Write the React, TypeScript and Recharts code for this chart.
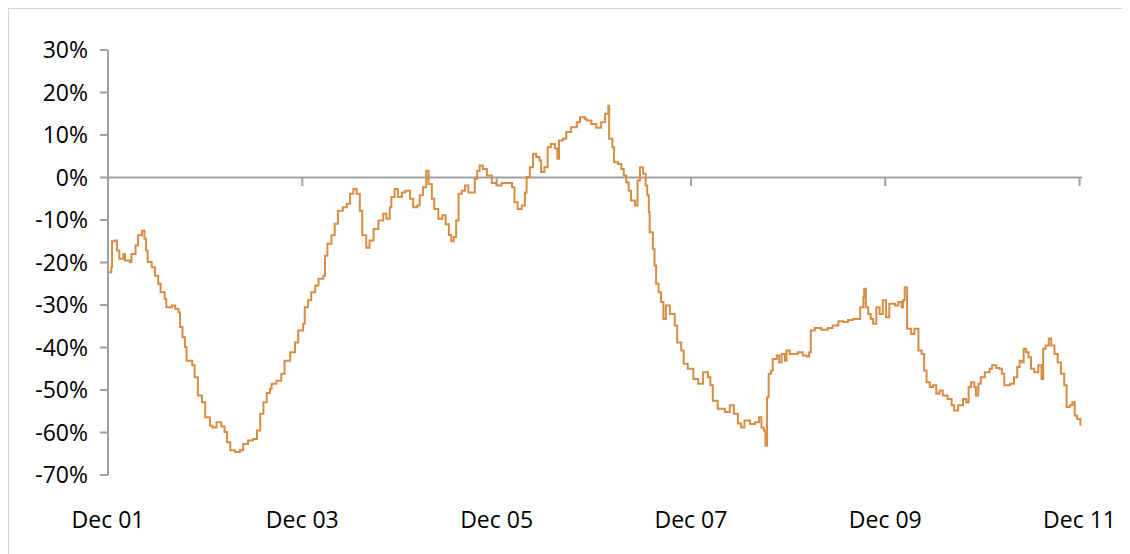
import { LineChart, Line, XAxis, YAxis, ReferenceLine } from 'recharts';

// months since Dec 2001
const months = [
  0.1, 0.4, 0.5, 0.8, 1.1, 1.4, 1.9, 2.1, 2.7, 2.9, 3.4, 3.7, 4.2, 4.5, 4.7, 4.9, 5.4, 5.8, 6.2, 6.5,
  7.0, 7.2, 7.9, 8.3, 8.7, 8.9, 9.2, 9.5, 9.7, 10.4, 10.7, 11.1, 11.6, 12.0, 12.6, 12.9, 13.4, 14.0, 14.4, 14.7,
  15.1, 15.7, 16.3, 16.7, 17.3, 17.9, 18.4, 18.8, 19.2, 19.6, 20.0, 20.2, 20.8, 21.4, 21.8, 22.5, 23.1, 23.5, 24.1, 24.3,
  24.7, 25.1, 25.6, 26.0, 26.6, 26.8, 27.1, 27.6, 28.0, 28.4, 29.0, 29.5, 29.9, 30.3, 30.7, 31.1, 31.4, 31.9, 32.3, 32.8,
  33.4, 34.0, 34.4, 34.8, 35.0, 35.4, 35.8, 36.3, 36.7, 37.3, 37.7, 38.2, 38.5, 38.9, 39.3, 39.6, 40.0, 40.3, 40.8, 41.3,
  41.7, 42.1, 42.4, 42.7, 43.0, 43.3, 43.7, 44.1, 44.5, 44.9, 45.3, 45.6, 45.9, 46.3, 46.8, 47.4, 48.0, 48.6, 49.4, 49.9,
  50.2, 50.6, 51.1, 51.5, 51.7, 52.1, 52.5, 52.9, 53.3, 53.5, 53.9, 54.3, 54.7, 55.2, 55.5, 55.7, 56.2, 56.6, 57.2, 57.9,
  58.3, 58.9, 59.1, 59.7, 60.3, 60.9, 61.4, 61.8, 61.9, 62.3, 62.5, 63.0, 63.4, 63.7, 64.0, 64.3, 64.6, 65.1, 65.4, 65.7,
  66.1, 66.4, 66.6, 66.8, 66.9, 67.3, 67.5, 67.7, 68.0, 68.3, 68.6, 68.9, 69.4, 70.0, 70.3, 70.8, 71.1, 71.6, 72.3, 72.9,
  73.5, 74.1, 74.4, 74.7, 75.3, 76.2, 76.8, 77.3, 77.8, 78.2, 78.6, 79.3, 79.9, 80.4, 80.7, 81.0, 81.2, 81.4, 81.6, 81.9,
  82.1, 82.6, 82.9, 83.2, 83.6, 83.8, 84.2, 84.8, 85.2, 85.8, 86.3, 86.6, 86.8, 87.3, 88.1, 88.9, 89.5, 90.2, 90.8, 91.4,
  92.0, 92.6, 92.9, 93.3, 93.4, 93.6, 93.9, 94.2, 94.5, 94.9, 95.3, 95.7, 96.1, 96.5, 97.2, 97.6, 98.0, 98.2, 98.4, 98.7,
  99.2, 99.6, 100.0, 100.1, 100.5, 100.8, 101.1, 101.5, 101.9, 102.3, 102.7, 103.1, 103.7, 104.2, 104.5, 105.0, 105.6, 106.0, 106.3, 106.6,
  107.0, 107.2, 107.5, 107.8, 108.3, 108.9, 109.2, 109.7, 110.1, 110.4, 110.7, 111.4, 111.9, 112.3, 112.6, 112.9, 113.1, 113.4, 113.7, 114.0,
  114.4, 114.9, 115.3, 115.5, 115.8, 116.2, 116.5, 116.9, 117.3, 117.7, 118.1, 118.4, 118.8, 119.1, 119.4, 119.7, 120.1,
];

const values = [
  -22.3, -21.1, -15.0, -14.8, -17.2, -19.1, -18.0, -19.5, -19.9, -18.0, -16.0, -13.6, -12.5, -14.4, -17.2, -19.9, -21.1, -23.1, -25.0, -27.0,
  -28.5, -30.5, -30.1, -30.9, -31.7, -35.2, -37.6, -39.9, -43.1, -44.2, -47.0, -51.3, -52.9, -56.4, -58.4, -58.8, -57.6, -58.6, -59.9, -62.3,
  -64.2, -64.6, -64.2, -62.7, -61.9, -61.5, -59.5, -55.6, -52.9, -50.7, -49.7, -48.5, -47.8, -46.2, -43.1, -41.1, -38.8, -36.0, -34.4, -30.5,
  -28.9, -27.0, -25.4, -23.8, -23.1, -18.4, -15.6, -13.6, -10.9, -7.8, -7.0, -6.2, -3.8, -2.7, -3.8, -7.8, -13.6, -16.5, -14.8, -12.1,
  -10.1, -8.5, -9.7, -7.0, -4.6, -2.7, -4.6, -3.5, -3.1, -5.0, -7.0, -6.6, -4.2, -2.3, 1.6, -1.5, -5.0, -7.4, -9.7, -8.9,
  -11.0, -13.5, -15.0, -14.0, -10.1, -3.8, -3.1, -1.9, -3.5, -3.5, -0.3, 1.6, 2.8, 2.0, 0.5, -1.3, -1.9, -1.3, -1.3, -2.3,
  -5.8, -7.4, -6.6, -3.5, 0.1, 2.4, 5.6, 4.8, 4.0, 1.3, 2.4, 7.1, 7.9, 6.8, 4.4, 8.7, 9.1, 10.7, 11.8, 13.0,
  14.2, 13.8, 13.4, 12.6, 11.7, 13.0, 15.0, 16.9, 9.1, 7.1, 3.6, 3.2, 2.0, 0.5, -1.1, -3.1, -5.4, -6.6, -0.7, 2.4,
  0.9, -1.9, -4.2, -8.2, -12.9, -16.8, -20.7, -25.0, -27.0, -29.3, -33.3, -30.1, -32.1, -34.8, -38.8, -40.7, -43.8, -45.0, -47.4, -48.5,
  -45.8, -47.0, -48.9, -52.5, -54.4, -55.2, -53.6, -55.6, -57.9, -58.8, -57.2, -58.0, -57.6, -56.4, -58.8, -59.5, -63.1, -51.7, -46.2, -45.4,
  -42.7, -41.9, -43.5, -41.5, -43.1, -40.7, -41.5, -41.5, -41.1, -41.9, -42.1, -41.1, -36.0, -35.4, -35.8, -35.4, -34.8, -33.8, -34.0, -33.5,
  -33.3, -33.3, -30.5, -28.2, -26.2, -30.5, -32.1, -33.3, -34.4, -30.5, -32.1, -28.9, -32.9, -29.7, -30.1, -29.3, -30.5, -28.9, -25.8, -35.6,
  -36.8, -35.6, -35.6, -40.7, -41.5, -45.4, -48.2, -49.3, -48.9, -50.9, -50.1, -51.3, -52.1, -53.6, -54.8, -53.6, -52.1, -52.9, -49.3, -48.2,
  -49.3, -51.3, -48.5, -47.0, -45.8, -45.0, -44.2, -44.8, -45.0, -46.2, -48.9, -48.5, -47.0, -44.6, -43.1, -43.5, -40.3, -41.1, -42.3, -45.0,
  -45.8, -44.2, -47.4, -40.3, -39.5, -37.9, -39.5, -41.5, -43.5, -46.2, -48.9, -54.0, -53.6, -52.9, -56.0, -56.8, -58.4,
];

const xTicks = [0, 24, 48, 72, 96, 120];
const xLabels = ['Dec 01', 'Dec 03', 'Dec 05', 'Dec 07', 'Dec 09', 'Dec 11'];
const yTicks = [-70, -60, -50, -40, -30, -20, -10, 0, 10, 20, 30];

const data = months.map((m, i) => ({ m, v: values[i] }));

const AXIS = '#a0a0a0';
const FONT = { fontFamily: 'Open Sans', fontSize: 23, fill: '#000' };

export default function App() {
  return (
    <div
      style={{
        width: 1121,
        height: 545,
        borderTop: '1px solid #d4d4d4',
        borderLeft: '1px solid #d4d4d4',
      }}
    >
      <LineChart width={1121} height={545} data={data} margin={{ top: 41, right: 48, left: 0, bottom: 49 }}>
        <XAxis
          dataKey="m"
          type="number"
          domain={[0, 120.3]}
          ticks={xTicks}
          tickFormatter={(v: number) => xLabels[xTicks.indexOf(v)] ?? ''}
          axisLine={false}
          tickLine={false}
          tickMargin={31}
          tick={FONT}
          height={30}
          interval={0}
        />
        <YAxis
          domain={[-70, 30]}
          ticks={yTicks}
          tickFormatter={(v: number) => `${v}%`}
          width={99}
          stroke={AXIS}
          tickSize={8}
          tickMargin={12}
          tick={FONT}
          interval={0}
          axisLine={{ stroke: AXIS, strokeWidth: 2 }}
          tickLine={{ stroke: AXIS, strokeWidth: 2 }}
        />
        <ReferenceLine y={0} stroke={AXIS} strokeWidth={2} />
        {xTicks.slice(1).map((t) => (
          <ReferenceLine
            key={t}
            segment={[{ x: t, y: 0 }, { x: t, y: -2 }]}
            stroke={AXIS}
            strokeWidth={2}
          />
        ))}
        <Line
          type="stepAfter"
          dataKey="v"
          stroke="#D88D45"
          strokeWidth={2}
          dot={false}
          isAnimationActive={false}
        />
      </LineChart>
    </div>
  );
}
